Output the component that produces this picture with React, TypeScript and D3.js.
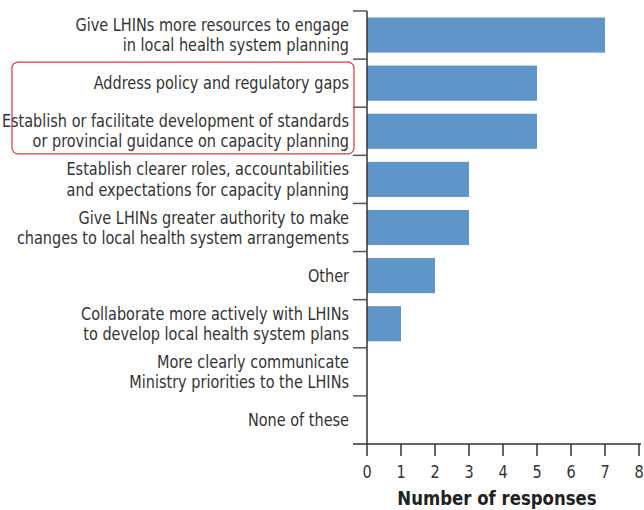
import React from "react";
import * as d3 from "d3";

const categories: string[][] = [
  ["Give LHINs more resources to engage", "in local health system planning"],
  ["Address policy and regulatory gaps"],
  ["Establish or facilitate development of standards", "or provincial guidance on capacity planning"],
  ["Establish clearer roles, accountabilities", "and expectations for capacity planning"],
  ["Give LHINs greater authority to make", "changes to local health system arrangements"],
  ["Other"],
  ["Collaborate more actively with LHINs", "to develop local health system plans"],
  ["More clearly communicate", "Ministry priorities to the LHINs"],
  ["None of these"],
];
const values: number[] = [7, 5, 5, 3, 3, 2, 1, 0, 0];
const xTicks: number[] = [0, 1, 2, 3, 4, 5, 6, 7, 8];
const xTitle = "Number of responses";

const FONT = "'DejaVu Sans Condensed', 'Liberation Sans Narrow', sans-serif";
const SX = 0.92;

export default function App() {
  const W = 644, H = 510;
  const keys = categories.map((c) => c.join(" "));
  const x = d3.scaleLinear().domain([0, 8]).range([367, 639]);
  const y = d3.scaleBand().domain(keys).range([11, 444]).paddingInner(0.27).paddingOuter(0.135);
  const step = y.step();
  const top = 11, bottom = 444;
  const lineH = 20;
  const hl0 = y(keys[1])! - (step - y.bandwidth()) / 2;
  const hl1 = y(keys[2])! + y.bandwidth() + (step - y.bandwidth()) / 2;
  return (
    <svg width={W} height={H} style={{ position: "absolute", left: 0, top: 0, background: "#fff" }} fontFamily={FONT}>
      {/* highlight box */}
      <rect x={12} y={hl0 + 3} width={342} height={hl1 - hl0 - 4.5} rx={6} ry={6} fill="none" stroke="#e3343b" strokeWidth={1.2} />
      {/* bars */}
      {values.map((v, i) => (
        <rect key={i} x={x(0)} y={y(keys[i])!} width={x(v) - x(0)} height={y.bandwidth()} fill="#5f95c8" />
      ))}
      {/* y axis */}
      <line x1={x(0)} x2={x(0)} y1={top} y2={bottom} stroke="#333" strokeWidth={1.5} />
      {d3.range(keys.length).map((i) => (
        <line key={i} x1={353} x2={x(0)} y1={top + i * step} y2={top + i * step} stroke="#555" strokeWidth={1.5} />
      ))}
      {/* category labels */}
      {categories.map((lines, i) => {
        const cy = y(keys[i])! + y.bandwidth() / 2;
        const start = cy - ((lines.length - 1) * lineH) / 2;
        return (
          <g key={i} transform={`translate(349,0) scale(${SX},1)`}>
            <text x={0} textAnchor="end" fontSize={17.5} fill="#333">
              {lines.map((l, j) => (
                <tspan key={j} x={0} y={start + j * lineH} dy="0.35em">{l}</tspan>
              ))}
            </text>
          </g>
        );
      })}
      {/* x axis */}
      <line x1={353} x2={641} y1={bottom} y2={bottom} stroke="#333" strokeWidth={1.5} />
      {xTicks.map((t) => (
        <g key={t}>
          <line x1={x(t)} x2={x(t)} y1={bottom} y2={bottom + 12} stroke="#333" strokeWidth={1.5} />
          <g transform={`translate(${x(t)},0) scale(${SX},1)`}>
            <text x={0} y={472} dy="0.35em" textAnchor="middle" fontSize={17.5} fill="#333">{t}</text>
          </g>
        </g>
      ))}
      <g transform={`translate(497,0) scale(${SX},1)`}>
        <text x={0} y={498} dy="0.35em" textAnchor="middle" fontSize={20} fontWeight="bold" fill="#222">{xTitle}</text>
      </g>
    </svg>
  );
}
